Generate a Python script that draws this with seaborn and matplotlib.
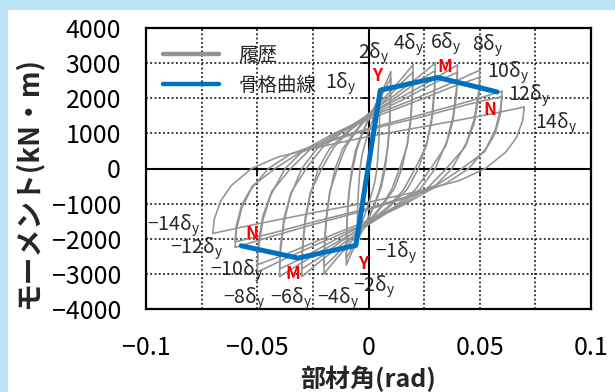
import matplotlib
matplotlib.use("Agg")
import matplotlib.pyplot as plt
from matplotlib.lines import Line2D
from matplotlib.patches import Rectangle
import pandas as pd
import seaborn as sns

# Hysteresis cycles per drift level, (rotation rad, moment kN·m).
# First cycle at each level
cycle_1dy = [(0.0050, 2000), (0.0050, 1560), (0.0048, 1000), (0.0044, 520), (0.0038, 0),
             (0.0029, -370), (0.0016, -680), (0.0000, -1010), (-0.0020, -1370), (-0.0038, -1700),
             (-0.0050, -1950), (-0.0050, -1520), (-0.0048, -980), (-0.0044, -510), (-0.0038, 0),
             (-0.0029, 380), (-0.0016, 700), (0.0000, 1040), (0.0020, 1400), (0.0038, 1740),
             (0.0050, 2000)]
cycle_2dy = [(0.0100, 2750), (0.0099, 2150), (0.0095, 1380), (0.0088, 720), (0.0075, 0),
             (0.0058, -520), (0.0032, -960), (0.0000, -1430), (-0.0040, -1930), (-0.0075, -2390),
             (-0.0100, -2750), (-0.0099, -2150), (-0.0095, -1380), (-0.0088, -720), (-0.0075, 0),
             (-0.0058, 520), (-0.0032, 960), (0.0000, 1430), (0.0040, 1930), (0.0075, 2390),
             (0.0100, 2750)]
cycle_4dy = [(0.0200, 2950), (0.0198, 2300), (0.0190, 1480), (0.0176, 770), (0.0150, 0),
             (0.0116, -570), (0.0064, -1050), (0.0000, -1560), (-0.0080, -2100), (-0.0150, -2610),
             (-0.0200, -3000), (-0.0198, -2340), (-0.0190, -1500), (-0.0176, -780), (-0.0150, 0),
             (-0.0116, 560), (-0.0064, 1030), (0.0000, 1530), (0.0080, 2070), (0.0150, 2570),
             (0.0200, 2950)]
cycle_6dy = [(0.0300, 3000), (0.0297, 2340), (0.0285, 1500), (0.0264, 780), (0.0225, 0),
             (0.0174, -590), (0.0096, -1080), (0.0000, -1600), (-0.0120, -2160), (-0.0225, -2680),
             (-0.0300, -3080), (-0.0297, -2400), (-0.0285, -1540), (-0.0264, -800), (-0.0225, 0),
             (-0.0174, 570), (-0.0096, 1050), (0.0000, 1560), (0.0120, 2100), (0.0225, 2610),
             (0.0300, 3000)]
cycle_8dy = [(0.0400, 2950), (0.0396, 2300), (0.0380, 1480), (0.0352, 770), (0.0300, 0),
             (0.0232, -590), (0.0128, -1080), (0.0000, -1600), (-0.0160, -2160), (-0.0300, -2680),
             (-0.0400, -3080), (-0.0396, -2400), (-0.0380, -1540), (-0.0352, -800), (-0.0300, 0),
             (-0.0232, 560), (-0.0128, 1030), (0.0000, 1530), (0.0160, 2070), (0.0300, 2570),
             (0.0400, 2950)]
cycle_10dy = [(0.0500, 2800), (0.0495, 2180), (0.0475, 1400), (0.0440, 730), (0.0375, 0),
              (0.0290, -560), (0.0160, -1030), (0.0000, -1530), (-0.0200, -2070), (-0.0375, -2570),
              (-0.0500, -2950), (-0.0495, -2300), (-0.0475, -1480), (-0.0440, -770), (-0.0375, 0),
              (-0.0290, 530), (-0.0160, 980), (0.0000, 1460), (0.0200, 1960), (0.0375, 2440),
              (0.0500, 2800)]
cycle_12dy = [(0.0600, 2200), (0.0594, 1720), (0.0570, 1100), (0.0528, 570), (0.0450, 0),
              (0.0348, -430), (0.0192, -790), (0.0000, -1170), (-0.0240, -1580), (-0.0450, -1960),
              (-0.0600, -2250), (-0.0594, -1760), (-0.0570, -1130), (-0.0528, -590), (-0.0450, 0),
              (-0.0348, 420), (-0.0192, 770), (0.0000, 1140), (0.0240, 1540), (0.0450, 1910),
              (0.0600, 2200)]
cycle_14dy = [(0.0700, 1750), (0.0693, 1370), (0.0665, 880), (0.0616, 460), (0.0525, 0),
              (0.0406, -350), (0.0224, -650), (0.0000, -960), (-0.0280, -1300), (-0.0525, -1610),
              (-0.0700, -1850), (-0.0693, -1440), (-0.0665, -930), (-0.0616, -480), (-0.0525, 0),
              (-0.0406, 330), (-0.0224, 610), (0.0000, 910), (0.0280, 1230), (0.0525, 1520),
              (0.0700, 1750)]
# Repeated (second) cycle at each level
repeat_2dy = [(0.0100, 2560), (0.0099, 1980), (0.0095, 1270), (0.0087, 600), (0.0070, 0),
              (0.0052, -550), (0.0028, -990), (0.0000, -1380), (-0.0040, -1840), (-0.0075, -2280),
              (-0.0100, -2560), (-0.0099, -1980), (-0.0095, -1270), (-0.0087, -600), (-0.0070, 0),
              (-0.0052, 550), (-0.0028, 990), (0.0000, 1380), (0.0040, 1840), (0.0075, 2280),
              (0.0100, 2560)]
repeat_4dy = [(0.0200, 2740), (0.0198, 2120), (0.0190, 1360), (0.0174, 650), (0.0140, 0),
              (0.0104, -600), (0.0056, -1080), (0.0000, -1500), (-0.0080, -2010), (-0.0150, -2490),
              (-0.0200, -2790), (-0.0198, -2160), (-0.0190, -1380), (-0.0174, -660), (-0.0140, 0),
              (-0.0104, 590), (-0.0056, 1060), (0.0000, 1480), (0.0080, 1980), (0.0150, 2450),
              (0.0200, 2740)]
repeat_6dy = [(0.0300, 2790), (0.0297, 2160), (0.0285, 1380), (0.0261, 660), (0.0210, 0),
              (0.0156, -620), (0.0084, -1110), (0.0000, -1540), (-0.0120, -2060), (-0.0225, -2560),
              (-0.0300, -2860), (-0.0297, -2220), (-0.0285, -1420), (-0.0261, -680), (-0.0210, 0),
              (-0.0156, 600), (-0.0084, 1080), (0.0000, 1500), (0.0120, 2010), (0.0225, 2490),
              (0.0300, 2790)]
repeat_8dy = [(0.0400, 2740), (0.0396, 2120), (0.0380, 1360), (0.0348, 650), (0.0280, 0),
              (0.0208, -620), (0.0112, -1110), (0.0000, -1540), (-0.0160, -2060), (-0.0300, -2560),
              (-0.0400, -2860), (-0.0396, -2220), (-0.0380, -1420), (-0.0348, -680), (-0.0280, 0),
              (-0.0208, 590), (-0.0112, 1060), (0.0000, 1480), (0.0160, 1980), (0.0300, 2450),
              (0.0400, 2740)]
repeat_10dy = [(0.0500, 2600), (0.0495, 2020), (0.0475, 1290), (0.0435, 620), (0.0350, 0),
               (0.0260, -590), (0.0140, -1060), (0.0000, -1480), (-0.0200, -1980), (-0.0375, -2450),
               (-0.0500, -2740), (-0.0495, -2120), (-0.0475, -1360), (-0.0435, -650), (-0.0350, 0),
               (-0.0260, 560), (-0.0140, 1010), (0.0000, 1400), (0.0200, 1880), (0.0375, 2320),
               (0.0500, 2600)]
repeat_12dy = [(0.0600, 2050), (0.0594, 1580), (0.0570, 1010), (0.0522, 480), (0.0420, 0),
               (0.0312, -450), (0.0168, -810), (0.0000, -1130), (-0.0240, -1510), (-0.0450, -1870),
               (-0.0600, -2090), (-0.0594, -1620), (-0.0570, -1040), (-0.0522, -500), (-0.0420, 0),
               (-0.0312, 440), (-0.0168, 790), (0.0000, 1100), (0.0240, 1470), (0.0450, 1830),
               (0.0600, 2050)]

# Skeleton (envelope) curve: N-, M-, Y-, Y+, M+, N+
skeleton_rot = [-0.0572, -0.0317, -0.0057, 0.0053, 0.0312, 0.0578]
skeleton_mom = [-2200, -2550, -2190, 2230, 2590, 2180]

# Drift level labels and Y/M/N point labels
level_names = ["1", "2", "4", "6", "8", "10", "12", "14",
               "−1", "−2", "−4", "−6", "−8", "−10", "−12", "−14"]
point_names = ["Y", "M", "N", "N", "M", "Y"]

x_ticks = [-0.1, -0.05, 0, 0.05, 0.1]
x_ticklabels = ["−0.1", "−0.05", "0", "0.05", "0.1"]
y_ticks = [4000, 3000, 2000, 1000, 0, -1000, -2000, -3000, -4000]
y_ticklabels = ["4000", "3000", "2000", "1000", "0", "−1000", "−2000", "−3000", "−4000"]

cycles = [cycle_1dy, cycle_2dy, repeat_2dy, cycle_4dy, repeat_4dy, cycle_6dy, repeat_6dy,
          cycle_8dy, repeat_8dy, cycle_10dy, repeat_10dy, cycle_12dy, repeat_12dy, cycle_14dy]
rows = []
for k, cyc in enumerate(cycles):
    for i, (r, m) in enumerate(cyc):
        rows.append({"cycle": k, "order": i, "rot": r, "mom": m})
hyst = pd.DataFrame(rows)
skel = pd.DataFrame({"rot": skeleton_rot, "mom": skeleton_mom})

# label placement (rotation, moment): left edge / vertical centre of each text
level_pos = [(-0.0196, 2436), (-0.0047, 3290), (0.0110, 3540), (0.0276, 3560),
             (0.0465, 3520), (0.0533, 2758), (0.0627, 2094), (0.0748, 1293),
             (0.0029, -2379), (-0.0068, -3360), (-0.0231, -3690), (-0.0443, -3690),
             (-0.0654, -3690), (-0.0712, -2900), (-0.0892, -2260), (-0.0996, -1610)]
point_pos = [(0.0040, 2621), (0.0344, 2900), (0.0546, 1667),
             (-0.0524, -1852), (-0.0339, -3006), (-0.0025, -2707)]

sns.set_style("white")
plt.rcParams["font.family"] = ["Noto Sans CJK JP", "DejaVu Sans"]
plt.rcParams["mathtext.default"] = "regular"

GRAY = "#939393"
BLUE = "#0070c0"

fig = plt.figure(figsize=(6.15, 3.92), dpi=100)
fig.patch.set_facecolor("#bee4f8")
fig.add_artist(Rectangle((8 / 615, 0), 1 - 8 / 615, 1 - 10 / 392,
                         transform=fig.transFigure, facecolor="white",
                         edgecolor="none", zorder=0))
ax = fig.add_axes([146 / 615, 1 - 309 / 392, 445 / 615, 281 / 392])
ax.set_facecolor("white")

sns.lineplot(data=hyst, x="rot", y="mom", units="cycle", estimator=None,
             sort=False, color=GRAY, lw=1.15, ax=ax, zorder=3)
sns.lineplot(data=skel, x="rot", y="mom", estimator=None, sort=False,
             color=BLUE, lw=3.6, ax=ax, zorder=4)

ax.set_xlim(-0.1, 0.1)
ax.set_ylim(-4000, 4000)
ax.set_xticks(x_ticks, x_ticklabels)
ax.set_xticks([-0.075, -0.025, 0.025, 0.075], minor=True)
ax.set_yticks(y_ticks, y_ticklabels)
ax.tick_params(axis="both", which="both", length=0, labelsize=18, colors="black")
ax.tick_params(axis="y", pad=18)
ax.tick_params(axis="x", pad=19)
ax.grid(True, which="both", axis="x", color="black", lw=1.1, ls=(0, (1.2, 1.6)))
ax.grid(True, which="major", axis="y", color="black", lw=1.1, ls=(0, (1.2, 1.6)))
ax.set_axisbelow(True)
ax.axhline(0, color="black", lw=1.5, zorder=2)
ax.axvline(0, color="black", lw=1.5, zorder=2)
for s in ax.spines.values():
    s.set_color("black")
    s.set_linewidth(1.6)

# small tick marks on the zero axes
for xt in [-0.05, 0.05]:
    ax.plot(xt, 0, marker=3, ms=5, mew=1.2, color="black", zorder=2)
for yt in [3000, 2000, 1000, -1000, -2000, -3000]:
    ax.plot(0, yt, marker=0, ms=5, mew=1.2, color="black", zorder=2)

ax.set_xlabel("部材角(rad)", fontsize=18, fontweight="bold")
ax.set_ylabel("モーメント(kN・m)", fontsize=20, fontweight="bold")
ax.xaxis.set_label_coords(0.5, -0.2475)
ax.xaxis.label.set_va("center")
ax.yaxis.set_label_coords(-0.265, 0.45)
ax.yaxis.label.set_va("center")

for name, (px, py) in zip(level_names, level_pos):
    ax.text(px, py, name + "δ$_{y}$", fontsize=14, ha="left", va="center", zorder=6)
for name, (px, py) in zip(point_names, point_pos):
    ax.text(px, py, name, fontsize=12.5, fontweight="bold", color="red",
            ha="center", va="center", zorder=6)

handles = [Line2D([], [], color=GRAY, lw=3.2), Line2D([], [], color=BLUE, lw=3.2)]
ax.legend(handles, ["履歴", "骨格曲線"], loc="upper left", bbox_to_anchor=(0, 1),
          frameon=False, fontsize=14, handlelength=2.9, handletextpad=1.0,
          labelspacing=0.5, borderaxespad=0.1, borderpad=0.75)

fig.savefig("out.png", dpi=100, facecolor=fig.get_facecolor())
